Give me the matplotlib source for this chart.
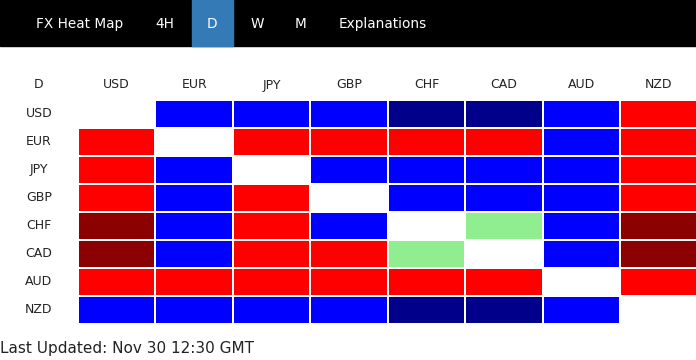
import matplotlib.pyplot as plt
import matplotlib.patches as mpatches
from matplotlib.colors import ListedColormap, BoundaryNorm
import numpy as np

# currencies (rows = base, columns = quote)
currencies = ["USD", "EUR", "JPY", "GBP", "CHF", "CAD", "AUD", "NZD"]
timeframe = "D"
menu_items = ["FX Heat Map", "4H", "D", "W", "M", "Explanations"]
updated = "Last Updated: Nov 30 12:30 GMT"

# strength level per cell: -2 strong down, -1 down, 0 flat, 1 up, 2 strong up, nan = same pair
N = np.nan
usd_row = [N, -1, -1, -1, -2, -2, -1, 1]
eur_row = [1, N, 1, 1, 1, 1, -1, 1]
jpy_row = [1, -1, N, -1, -1, -1, -1, 1]
gbp_row = [1, -1, 1, N, -1, -1, -1, 1]
chf_row = [2, -1, 1, -1, N, 0, -1, 2]
cad_row = [2, -1, 1, 1, 0, N, -1, 2]
aud_row = [1, 1, 1, 1, 1, 1, N, 1]
nzd_row = [-1, -1, -1, -1, -2, -2, -1, N]

levels = np.array([usd_row, eur_row, jpy_row, gbp_row,
                   chf_row, cad_row, aud_row, nzd_row])

level_colors = ["#00008B", "#0000FF", "#90EE90", "#FF0000", "#8B0000"]
cmap = ListedColormap(level_colors)
norm = BoundaryNorm([-2.5, -1.5, -0.5, 0.5, 1.5, 2.5], cmap.N)

W, H = 696, 360
fig = plt.figure(figsize=(W / 100, H / 100), dpi=100)
fig.patch.set_facecolor("white")

def px(x, y):
    # pixel (from top-left) -> figure fraction
    return x / W, 1 - y / H

# top menu bar
fig.patches.append(mpatches.Rectangle((0, 1 - 46 / H), 1, 46 / H,
                                      transform=fig.transFigure, color="black", zorder=0))
fig.patches.append(mpatches.Rectangle((192 / W, 1 - 46 / H), 41 / W, 46 / H,
                                      transform=fig.transFigure, color="#337AB7", zorder=1))
menu_x = [36, 165, 212, 257, 301, 339]
menu_ha = ["left", "center", "center", "center", "center", "left"]
for name, x, ha in zip(menu_items, menu_x, menu_ha):
    fig.text(*px(x, 24), name, color="white", fontsize=9.8, ha=ha, va="center")

# heat map grid
left, right, top, bottom = 78, 697.5, 99.5, 323.5
ax = fig.add_axes([left / W, 1 - bottom / H, (right - left) / W, (bottom - top) / H])
masked = np.ma.masked_invalid(levels)
ax.pcolormesh(masked, cmap=cmap, norm=norm, edgecolors="white", linewidth=1.2)
ax.set_xlim(0, 8)
ax.set_ylim(8, 0)
ax.axis("off")

lab_y = -14.5 / 28
lab_x = (39 - left) / ((right - left) / 8)
ax.text(lab_x, lab_y, timeframe, ha="center", va="center", fontsize=9, color="#222222")
for i, c in enumerate(currencies):
    ax.text(i + 0.5, lab_y, c, ha="center", va="center", fontsize=9, color="#222222")
    ax.text(lab_x, i + 0.5, c, ha="center", va="center", fontsize=9, color="#222222",
            clip_on=False)

fig.text(*px(0, 349), updated, ha="left", va="center", fontsize=11, color="#222222")

fig.savefig("out.png", dpi=100)
